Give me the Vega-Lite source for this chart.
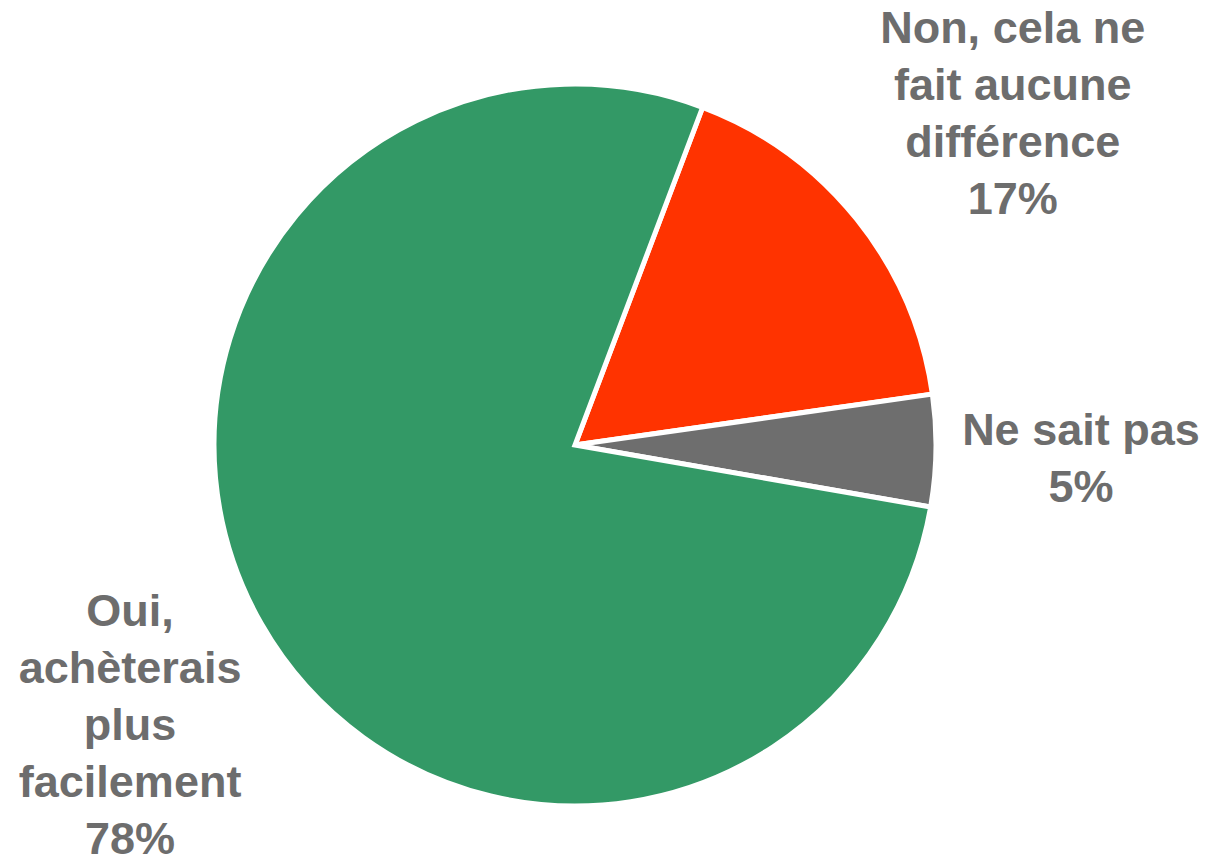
{
  "$schema": "https://vega.github.io/schema/vega-lite/v6.json",
  "width": 1150,
  "height": 890,
  "autosize": {"type": "none"},
  "padding": {"left": 0, "top": 0, "right": 55, "bottom": 0},
  "background": "white",
  "config": {"view": {"stroke": null}},
  "data": {
    "values": [
      {"cat": "Non", "value": 17, "ord": 1, "label": "Non, cela ne\nfait aucune\ndifférence\n17%"},
      {"cat": "NSP", "value": 5, "ord": 2, "label": "Ne sait pas\n5%"},
      {"cat": "Oui", "value": 78, "ord": 3, "label": "Oui,\nachèterais\nplus\nfacilement\n78%"}
    ]
  },
  "encoding": {
    "theta": {"field": "value", "type": "quantitative", "stack": true, "scale": {"range": [0.3613, 6.6445]}},
    "order": {"field": "ord", "type": "quantitative"}
  },
  "layer": [
    {
      "mark": {"type": "arc", "outerRadius": 361, "stroke": "white", "strokeWidth": 5},
      "encoding": {
        "color": {"field": "cat", "type": "nominal", "legend": null,
          "scale": {"domain": ["Non", "NSP", "Oui"], "range": ["#FF3300", "#6E6E6E", "#339966"]}}
      }
    },
    {
      "mark": {"type": "text", "font": "Liberation Sans", "fontWeight": "bold", "fontSize": 45, "lineHeight": 57, "lineBreak": "\n", "color": "#6D6D6D", "align": "center", "baseline": "middle", "dx": 10, "dy": -73},
      "encoding": {
        "radius": {"value": 548},
        "text": {"condition": {"test": "datum.cat === 'Non'", "field": "label"}, "value": ""}
      }
    },
    {
      "mark": {"type": "text", "font": "Liberation Sans", "fontWeight": "bold", "fontSize": 45, "lineHeight": 57, "lineBreak": "\n", "color": "#6D6D6D", "align": "center", "baseline": "middle", "dx": 1, "dy": -22},
      "encoding": {
        "radius": {"value": 505},
        "text": {"condition": {"test": "datum.cat === 'NSP'", "field": "label"}, "value": ""}
      }
    },
    {
      "mark": {"type": "text", "font": "Liberation Sans", "fontWeight": "bold", "fontSize": 45, "lineHeight": 57, "lineBreak": "\n", "color": "#6D6D6D", "align": "center", "baseline": "middle", "dx": 12, "dy": -94},
      "encoding": {
        "radius": {"value": 526},
        "text": {"condition": {"test": "datum.cat === 'Oui'", "field": "label"}, "value": ""}
      }
    }
  ]
}
